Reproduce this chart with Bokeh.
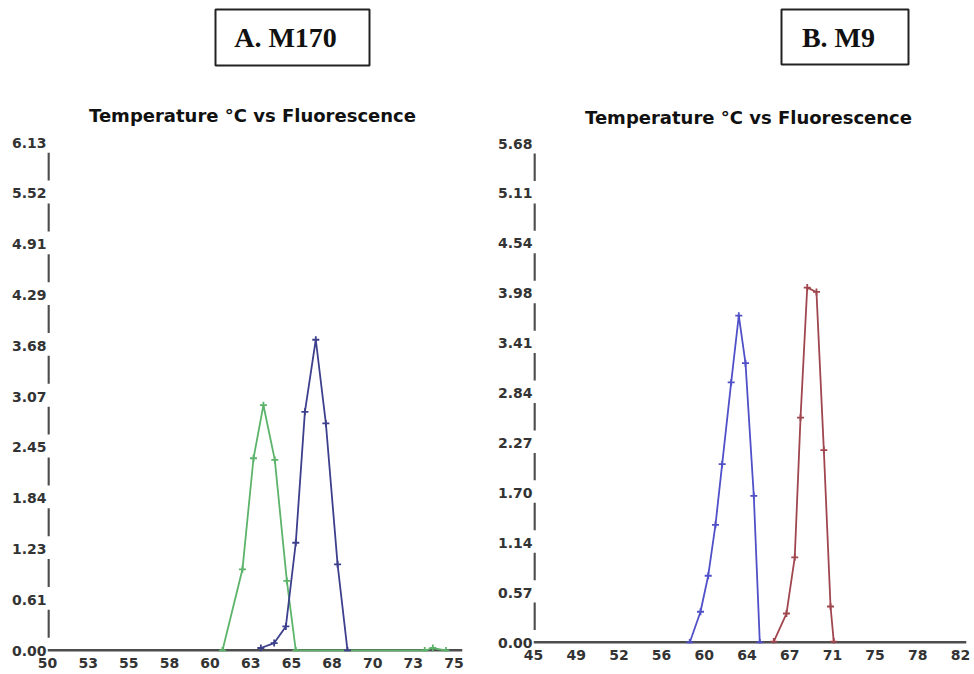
from bokeh.plotting import figure
from bokeh.layouts import row
from bokeh.models import Range1d, FixedTicker, Span, Label, BoxAnnotation
from bokeh.embed import file_html
from bokeh.resources import INLINE

# ---------------- data ----------------
# Panel A (M170)
a_x_ticks = [50, 52.5, 55, 57.5, 60, 62.5, 65, 67.5, 70, 72.5, 75]
a_x_labels = ["50", "53", "55", "58", "60", "63", "65", "68", "70", "73", "75"]
a_y_ticks = [0, 0.613, 1.226, 1.839, 2.452, 3.065, 3.678, 4.291, 4.904, 5.517, 6.13]
a_y_labels = ["0.00", "0.61", "1.23", "1.84", "2.45", "3.07", "3.68", "4.29", "4.91", "5.52", "6.13"]

a_green_temp = [60.76, 61.99, 62.67, 63.28, 63.98, 64.72, 65.27, 73.2, 73.7, 74.5]
a_green_fluor = [0.0, 0.98, 2.32, 2.96, 2.30, 0.84, 0.0, 0.0, 0.03, 0.0]
a_navy_temp = [63.12, 63.94, 64.66, 65.27, 65.83, 66.50, 67.12, 67.84, 68.45]
a_navy_fluor = [0.03, 0.09, 0.29, 1.30, 2.88, 3.75, 2.74, 1.04, 0.0]

# Panel B (M9)
b_x_ticks = [45, 48.7, 52.4, 56.1, 59.8, 63.5, 67.2, 70.9, 74.6, 78.3, 82]
b_x_labels = ["45", "49", "52", "56", "60", "64", "67", "71", "75", "78", "82"]
b_y_ticks = [0, 0.568, 1.136, 1.704, 2.272, 2.84, 3.408, 3.976, 4.544, 5.112, 5.68]
b_y_labels = ["0.00", "0.57", "1.14", "1.70", "2.27", "2.84", "3.41", "3.98", "4.54", "5.11", "5.68"]

b_blue_temp = [58.54, 59.47, 60.14, 60.77, 61.35, 62.13, 62.79, 63.37, 64.09, 64.61]
b_blue_fluor = [0.0, 0.35, 0.76, 1.34, 2.03, 2.96, 3.72, 3.18, 1.67, 0.0]
b_red_temp = [65.82, 66.92, 67.64, 68.14, 68.72, 69.52, 70.16, 70.74, 71.02]
b_red_fluor = [0.01, 0.33, 0.97, 2.56, 4.04, 3.99, 2.19, 0.41, 0.01]

TITLE = "Temperature °C vs Fluorescence"
AXIS_GRAY = "#4d4d4d"
LABEL_GRAY = "#333333"


def make_panel(cfg, x_ticks, x_labels, y_ticks, y_labels, series, box_text):
    fw, fh = cfg["frame_w"], cfg["frame_h"]
    sx = cfg["sx"]
    sy = (cfg["zero_py"] - cfg["top_tick_py"]) / y_ticks[-1]
    x0 = x_ticks[0]
    x_end = x0 + fw / sx
    y_start = -(fh - cfg["zero_py"]) / sy
    y_end = y_start + fh / sy

    p = figure(frame_width=fw, frame_height=fh,
               x_range=Range1d(x0, x_end), y_range=Range1d(y_start, y_end),
               min_border_left=cfg["left_b"], min_border_right=cfg["right_b"],
               min_border_top=0, min_border_bottom=cfg["bottom_b"],
               output_backend="svg", toolbar_location=None, outline_line_color=None,
               background_fill_color="white", border_fill_color="white")
    p.title.visible = False
    p.grid.visible = False

    for ax, ticks, labels, standoff in ((p.xaxis, x_ticks, x_labels, cfg["x_standoff"]),
                                        (p.yaxis, y_ticks, y_labels, 1)):
        ax.ticker = FixedTicker(ticks=ticks)
        ax.major_label_overrides = {t: l for t, l in zip(ticks, labels)}
        ax.axis_line_color = None
        ax.major_tick_line_color = None
        ax.minor_tick_line_color = None
        ax.major_tick_out = 0
        ax.major_tick_in = 0
        ax.axis_label_standoff = 0
        ax.major_label_standoff = standoff
        ax.major_label_text_font = "DejaVu Sans"
        ax.major_label_text_font_style = "bold"
        ax.major_label_text_font_size = "14px"
        ax.major_label_text_color = LABEL_GRAY

    # helpers: page pixel -> data coordinates (for decorations only)
    def dx(px):
        return x0 + (px - cfg["frame_left_px"]) / sx

    def dy(py):
        return (cfg["zero_py"] - py) / sy

    # horizontal axis line at zero
    p.add_layout(Span(location=0, dimension="width", line_color=AXIS_GRAY,
                      line_width=3, level="underlay"))

    # broken vertical axis line between the tick labels
    step = y_ticks[1] - y_ticks[0]
    seg_x = dx(cfg["frame_left_px"] + 1)
    upper = [t - 0.2 * step for t in y_ticks[1:]]
    lower = [t - 0.75 * step for t in y_ticks[1:]]
    p.segment(x0=[seg_x] * len(upper), y0=upper, x1=[seg_x] * len(upper), y1=lower,
              line_color=AXIS_GRAY, line_width=2.5)

    for temp, fluor, color in series:
        p.line(temp, fluor, line_color=color, line_width=1.8)
        p.scatter(temp, fluor, marker="cross", size=7, line_color=color, line_width=1.8)

    # chart title
    p.add_layout(Label(x=dx(cfg["title_px"][0]), y=dy(cfg["title_px"][1]), text=TITLE,
                       text_font="DejaVu Sans", text_font_style="bold", text_font_size="18px",
                       text_color="#111111", text_align="center", text_baseline="middle"))

    # boxed panel label
    bl, bt, br, bbm = cfg["box_px"]
    p.add_layout(BoxAnnotation(left=dx(bl), right=dx(br), top=dy(bt), bottom=dy(bbm),
                               fill_color=None, fill_alpha=0, line_color="#222222",
                               line_alpha=1.0, line_width=2))
    p.add_layout(Label(x=dx(cfg["box_text_px"][0]), y=dy(cfg["box_text_px"][1]), text=box_text,
                       text_font="Liberation Serif", text_font_style="bold", text_font_size="28px",
                       text_color="#111111", text_align="center", text_baseline="middle"))
    return p


# layout constants (page pixels): panel A starts at x=0, panel B at x=487
cfg_a = dict(frame_w=415, frame_h=651, left_b=47, right_b=25, bottom_b=23, x_standoff=6,
             sx=16.26, zero_py=650, top_tick_py=142, frame_left_px=47,
             title_px=(252, 115), box_px=(215, 9, 369, 65), box_text_px=(285, 37))
cfg_b = dict(frame_w=433, frame_h=643, left_b=46, right_b=8, bottom_b=31, x_standoff=6,
             sx=11.54, zero_py=642, top_tick_py=143, frame_left_px=46,
             title_px=(748 - 487, 117), box_px=(781 - 487, 9, 908 - 487, 64),
             box_text_px=(838 - 487, 37))

pa = make_panel(cfg_a, a_x_ticks, a_x_labels, a_y_ticks, a_y_labels,
                [(a_green_temp, a_green_fluor, "#5cb36a"),
                 (a_navy_temp, a_navy_fluor, "#3c3f8c")], "A. M170")
pb = make_panel(cfg_b, b_x_ticks, b_x_labels, b_y_ticks, b_y_labels,
                [(b_blue_temp, b_blue_fluor, "#5050c8"),
                 (b_red_temp, b_red_fluor, "#a0464f")], "B. M9")

layout = row(pa, pb)
open("out.html", "w").write(file_html(layout, INLINE))
